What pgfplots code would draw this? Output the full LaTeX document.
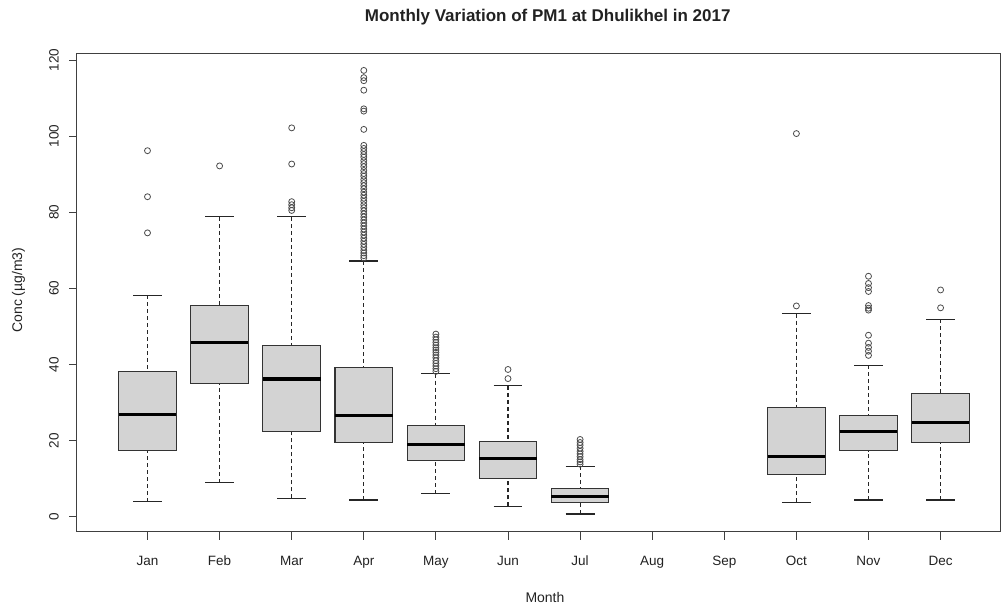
\documentclass[border=0pt]{standalone}
\usepackage{fontspec}
\setmainfont{Liberation Sans}
\usepackage{pgfplots}
\pgfplotsset{compat=1.18}
\usepgfplotslibrary{statistics}
\definecolor{boxgray}{HTML}{D3D3D3}
\definecolor{txt}{HTML}{222222}
\pgfplotsset{
  /pgfplots/boxplot/draw/lower whisker/.code={%
    \draw[dash pattern=on 4pt off 3pt] (boxplot cs:\pgfplotsboxplotvalue{lower whisker}) -- (boxplot cs:\pgfplotsboxplotvalue{lower quartile});
    \draw (boxplot whisker cs:\pgfplotsboxplotvalue{lower whisker},0) -- (boxplot whisker cs:\pgfplotsboxplotvalue{lower whisker},1);
  },
  /pgfplots/boxplot/draw/upper whisker/.code={%
    \draw[dash pattern=on 4pt off 3pt] (boxplot cs:\pgfplotsboxplotvalue{upper whisker}) -- (boxplot cs:\pgfplotsboxplotvalue{upper quartile});
    \draw (boxplot whisker cs:\pgfplotsboxplotvalue{upper whisker},0) -- (boxplot whisker cs:\pgfplotsboxplotvalue{upper whisker},1);
  },
  bx/.style={draw=black!85, line width=1.1pt,
    boxplot/draw direction=y,
    boxplot/box extend=0.8, boxplot/whisker extend=0.4,
    boxplot/every box/.style={fill=boxgray, draw=black!80, line width=1.1pt},
    boxplot/every median/.style={line width=3.2pt, black},
    boxplot/every whisker/.style={line width=1pt}},
}
\begin{document}
\begin{tikzpicture}
\begin{axis}[
  at={(0,0)}, anchor=south west,
  scale only axis, width=923pt, height=478.4pt,
  xmin=0.0222, xmax=12.824, ymin=-3.94, ymax=121.8,
  axis line style={black!75, line width=1pt},
  xtick={1,...,12},
  xticklabels={Jan,Feb,Mar,Apr,May,Jun,Jul,Aug,Sep,Oct,Nov,Dec},
  ytick={0,20,40,60,80,100,120},
  tick align=outside, xtick pos=bottom, ytick pos=left,
  major tick length=8pt,
  tick style={black!75, line width=0.9pt},
  /pgf/number format/assume math mode=true,
  ticklabel style={font=\fontsize{13.5}{16}\selectfont, text=txt},
  yticklabel style={rotate=90, anchor=south, inner sep=0pt, yshift=10pt},
  xticklabel style={anchor=base, inner sep=0pt, yshift=-26pt},
  title={Monthly Variation of PM1 at Dhulikhel in 2017},
  title style={font=\bfseries\fontsize{17}{20}\selectfont, text=txt, at={(axis description cs:0.510,1)}, anchor=center, yshift=30.3pt},
  xlabel={Month},
  xlabel style={font=\fontsize{14}{16}\selectfont, text=txt, at={(axis description cs:0.507,0)}, anchor=center, yshift=-66pt},
  ylabel={Conc (µg/m3)},
  ylabel style={font=\fontsize{14}{16}\selectfont, text=txt, at={(axis description cs:-0.0634,0.505)}, anchor=center},
  clip=false,
]
\addplot[bx, boxplot prepared={draw position=1, lower whisker=3.9, lower quartile=17.5, median=26.9, upper quartile=38.1, upper whisker=58.2}] coordinates {};
\addplot[bx, boxplot prepared={draw position=2, lower whisker=8.9, lower quartile=34.9, median=45.7, upper quartile=55.6, upper whisker=78.8}] coordinates {};
\addplot[bx, boxplot prepared={draw position=3, lower whisker=4.8, lower quartile=22.3, median=36.2, upper quartile=45.1, upper whisker=78.8}] coordinates {};
\addplot[bx, boxplot prepared={draw position=4, lower whisker=4.4, lower quartile=19.5, median=26.5, upper quartile=39.2, upper whisker=67.2}] coordinates {};
\addplot[bx, boxplot prepared={draw position=5, lower whisker=6.0, lower quartile=14.8, median=18.9, upper quartile=23.9, upper whisker=37.6}] coordinates {};
\addplot[bx, boxplot prepared={draw position=6, lower whisker=2.7, lower quartile=10.0, median=15.3, upper quartile=19.8, upper whisker=34.4}] coordinates {};
\addplot[bx, boxplot prepared={draw position=7, lower whisker=0.7, lower quartile=3.8, median=5.4, upper quartile=7.5, upper whisker=13.3}] coordinates {};
\addplot[bx, boxplot prepared={draw position=10, lower whisker=3.8, lower quartile=11.1, median=15.8, upper quartile=28.7, upper whisker=53.4}] coordinates {};
\addplot[bx, boxplot prepared={draw position=11, lower whisker=4.4, lower quartile=17.4, median=22.3, upper quartile=26.5, upper whisker=39.8}] coordinates {};
\addplot[bx, boxplot prepared={draw position=12, lower whisker=4.4, lower quartile=19.5, median=24.8, upper quartile=32.4, upper whisker=51.9}] coordinates {};
% outliers
\addplot[only marks, mark=o, mark size=3pt, mark options={draw=black!70, line width=0.8pt}] coordinates {
(1,96.2) (1,84.1) (1,74.6)
(2,92.2)
(3,102.2) (3,92.7) (3,82.8) (3,82.0) (3,81.2) (3,80.5)
(4,117.3) (4,115.4) (4,114.6) (4,112.1) (4,107.2) (4,106.6) (4,101.8)
(4,97.6) (4,96.8) (4,96.0) (4,95.2) (4,94.5) (4,93.6) (4,92.8) (4,92.0) (4,91.0) (4,90.2)
(4,89.5) (4,88.6) (4,87.8) (4,87.0) (4,86.2) (4,85.3) (4,84.5) (4,83.7) (4,82.9) (4,82.0)
(4,81.2) (4,80.4) (4,79.6) (4,78.8) (4,78.0) (4,77.2) (4,76.4) (4,75.6) (4,74.8) (4,74.0)
(4,73.2) (4,72.4) (4,71.6) (4,70.8) (4,70.0) (4,69.3) (4,68.6) (4,68.0)
(5,48.0) (5,47.2) (5,46.5) (5,45.8) (5,45.1) (5,44.4) (5,43.8) (5,43.2) (5,42.5) (5,41.8)
(5,41.0) (5,40.3) (5,39.6) (5,38.9) (5,38.2)
(6,38.7) (6,36.3)
(7,20.3) (7,19.5) (7,18.8) (7,18.0) (7,17.2) (7,16.5) (7,15.8) (7,15.0) (7,14.4) (7,13.8)
(10,100.7) (10,55.4)
(11,63.2) (11,61.3) (11,60.2) (11,59.2) (11,55.5) (11,54.8) (11,54.3) (11,47.7) (11,45.6) (11,44.5) (11,43.5) (11,42.4)
(12,59.6) (12,54.9)
};
\end{axis}
\path[use as bounding box] (-77pt,-77.3pt) rectangle (925pt,531.7pt);
\end{tikzpicture}
\end{document}
